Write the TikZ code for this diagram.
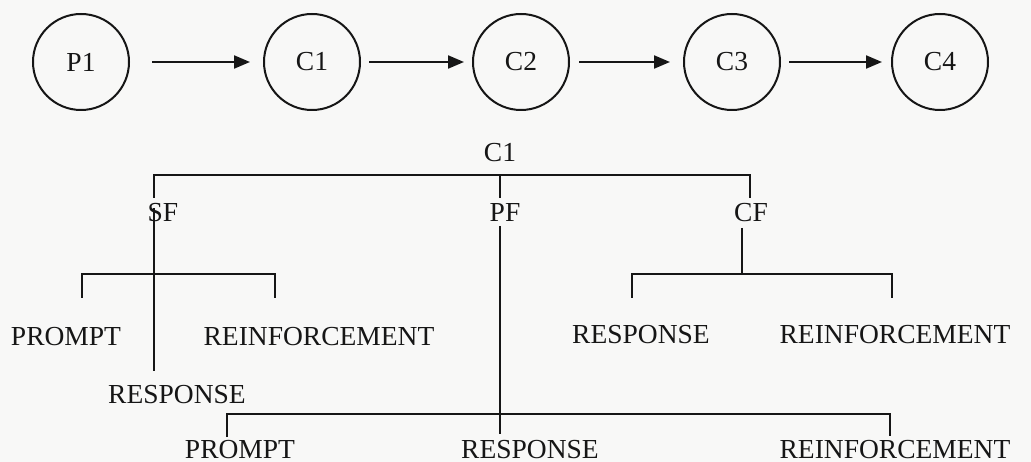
\documentclass[tikz,border=0pt]{standalone}
\usepackage{fontspec}
\setmainfont{Liberation Serif}
\usetikzlibrary{arrows.meta}
\definecolor{ink}{HTML}{161616}
\definecolor{paper}{HTML}{F8F8F7}
\begin{document}
\begin{tikzpicture}[x=1pt,y=-1pt,
  every node/.style={text=ink,font=\fontsize{27.5}{30}\selectfont,inner sep=0pt},
  state/.style={draw=ink,circle,line width=2pt,minimum size=96pt},
  lbl/.style={anchor=base},
  flow/.style={draw=ink,line width=2.2pt,-{Triangle[length=16pt,width=13pt]}},
  tree/.style={draw=ink,line width=2.1pt}]
\fill[paper] (0,0) rectangle (1031,462);
\useasboundingbox (0,0) rectangle (1031,462);

% chain of states
\node[state] (p1) at (81,62) {P1};
\node[state] (c1) at (312,62) {C1};
\node[state] (c2) at (521,62) {C2};
\node[state] (c3) at (732,62) {C3};
\node[state] (c4) at (940,62) {C4};
\draw[flow,shorten <=22pt,shorten >=13pt] (p1) -- (c1);
\draw[flow,shorten <=8pt,shorten >=8pt] (c1) -- (c2);
\draw[flow,shorten <=9pt,shorten >=13pt] (c2) -- (c3);
\draw[flow,shorten <=8pt,shorten >=9pt] (c3) -- (c4);

% breakdown of C1
\node[lbl] (root) at (500,162) {C1};
\node[lbl] (sf) at (163,222) {SF};
\node[lbl] (pf) at (505,222) {PF};
\node[lbl] (cf) at (751,222) {CF};

\node[lbl] (sfp) at (66,345) {PROMPT};
\node[lbl] (sfr) at (177,403) {RESPONSE};
\node[lbl] (sfe) at (319,345) {REINFORCEMENT};

\node[lbl] (cfr) at (641,344) {RESPONSE};
\node[lbl] (cfe) at (895,344) {REINFORCEMENT};

\node[lbl] (pfp) at (240,458) {PROMPT};
\node[lbl] (pfr) at (530,458) {RESPONSE};
\node[lbl] (pfe) at (895,458) {REINFORCEMENT};

% junction points of the brackets
\coordinate (r-sf) at (154,198);
\coordinate (r-pf) at (500,198);
\coordinate (r-cf) at (750,198);
\coordinate (r-barl) at (154,175);
\coordinate (r-barr) at (750,175);
\coordinate (r-barm) at (500,175);

\coordinate (sf-top) at (154,208);
\coordinate (sf-bot) at (154,371);
\coordinate (sf-l) at (82,298);
\coordinate (sf-r) at (275,298);
\coordinate (sf-bar) at (154,274);

\coordinate (pf-top) at (500,226);
\coordinate (pf-bot) at (500,434);
\coordinate (pf-l) at (227,437);
\coordinate (pf-r) at (890,436);
\coordinate (pf-bar) at (500,414);

\coordinate (cf-top) at (742,228);
\coordinate (cf-bar) at (742,274);
\coordinate (cf-l) at (632,298);
\coordinate (cf-r) at (892,298);

% top bracket
\draw[tree] (r-sf) -- (r-barl) -- (r-barr) -- (r-cf);
\draw[tree] (r-barm) -- (r-pf);

% SF branch
\draw[tree] (sf-top) -- (sf-bot);
\draw[tree] (sf-l) |- (sf-bar) -| (sf-r);

% PF branch
\draw[tree] (pf-top) -- (pf-bot);
\draw[tree] (pf-l) |- (pf-bar) -| (pf-r);

% CF branch
\draw[tree] (cf-top) -- (cf-bar);
\draw[tree] (cf-l) |- (cf-bar) -| (cf-r);
\end{tikzpicture}
\end{document}
